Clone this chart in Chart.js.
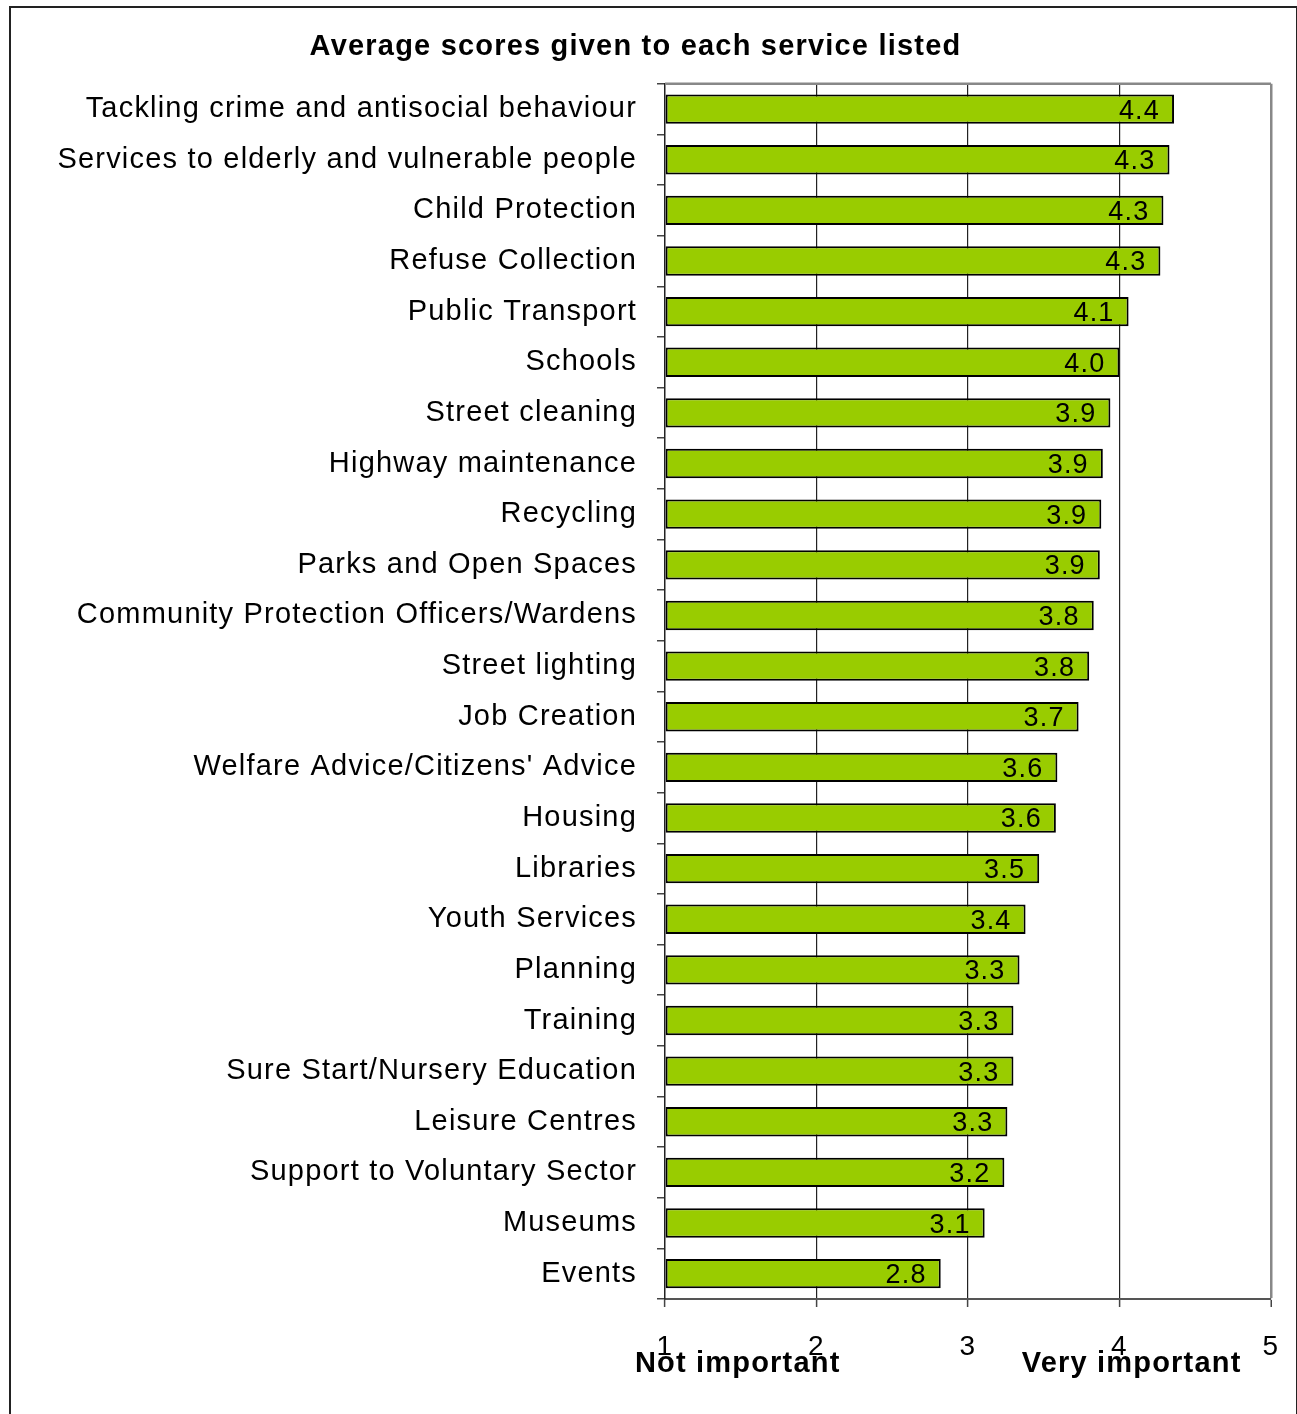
<!DOCTYPE html>
<html>
<head>
<meta charset="utf-8">
<title>Average scores given to each service listed</title>
<script src="https://cdn.jsdelivr.net/npm/chart.js@4.4.1/dist/chart.umd.min.js"></script>
<style>
    html, body { margin: 0; padding: 0; background: #fff; }
    #wrap { position: relative; width: 1297px; height: 1414px; overflow: hidden; }
    #frame {
        position: absolute; left: 9px; top: 6px; width: 1285px; height: 1420px;
        border: 2px solid #222; pointer-events: none;
    }
</style>
</head>
<body>
<div id="wrap">
    <canvas id="servicesChart" width="1297" height="1414"></canvas>
    <div id="frame"></div>
</div>
<script>
// Services, top to bottom
const services = [
    'Tackling crime and antisocial behaviour',
    'Services to elderly and vulnerable people',
    'Child Protection',
    'Refuse Collection',
    'Public Transport',
    'Schools',
    'Street cleaning',
    'Highway maintenance',
    'Recycling',
    'Parks and Open Spaces',
    'Community Protection Officers/Wardens',
    'Street lighting',
    'Job Creation',
    "Welfare Advice/Citizens' Advice",
    'Housing',
    'Libraries',
    'Youth Services',
    'Planning',
    'Training',
    'Sure Start/Nursery Education',
    'Leisure Centres',
    'Support to Voluntary Sector',
    'Museums',
    'Events'
];

// Average scores
const averageScores = [
    4.36, 4.33, 4.29, 4.27, 4.06, 4.00, 3.94, 3.89, 3.88, 3.87, 3.83, 3.80,
    3.73, 3.59, 3.58, 3.47, 3.38, 3.34, 3.30, 3.30, 3.26, 3.24, 3.11, 2.82
];

// Scale 1..5 and its two end labels
const scoreTicks = [1, 2, 3, 4, 5];
const scaleLabels = ['Not important', 'Very important'];
const scaleLabelValues = [1.48, 4.08];

const FONT = '"Liberation Sans", Arial, sans-serif';
const LETTER_SPACING = '1.2px';

// The original text is set a bit wider than plain Arial
const wideText = {
    id: 'wideText',
    beforeLayout(chart) { chart.ctx.letterSpacing = LETTER_SPACING; },
    beforeDraw(chart) { chart.ctx.letterSpacing = LETTER_SPACING; }
};

// Value written inside the end of each bar
const barValueLabels = {
    id: 'barValueLabels',
    afterDatasetsDraw(chart) {
        const ctx = chart.ctx;
        const meta = chart.getDatasetMeta(0);
        ctx.save();
        ctx.font = '27px ' + FONT;
        ctx.fillStyle = '#000';
        ctx.textAlign = 'right';
        ctx.textBaseline = 'middle';
        meta.data.forEach((bar, i) => {
            ctx.fillText(averageScores[i].toFixed(1), bar.x - 14, bar.y + 2);
        });
        ctx.restore();
    }
};

// Grey top edge of the plot area + the two scale captions under the axis
const plotDecor = {
    id: 'plotDecor',
    beforeDatasetsDraw(chart) {
        const { ctx, chartArea } = chart;
        ctx.save();
        ctx.strokeStyle = '#888';
        ctx.lineWidth = 2.5;
        ctx.beginPath();
        ctx.moveTo(chartArea.left, chartArea.top);
        ctx.lineTo(chartArea.right, chartArea.top);
        ctx.stroke();
        ctx.restore();
    },
    afterDraw(chart) {
        const { ctx, chartArea } = chart;
        const xScale = chart.scales.x;
        ctx.save();
        ctx.font = 'bold 29px ' + FONT;
        ctx.fillStyle = '#000';
        ctx.textAlign = 'center';
        ctx.textBaseline = 'middle';
        scaleLabels.forEach((txt, i) => {
            ctx.fillText(txt, xScale.getPixelForValue(scaleLabelValues[i]), chartArea.bottom + 65);
        });
        ctx.restore();
    }
};

function createServicesChart() {
    const canvas = document.getElementById('servicesChart');
    if (!canvas) {
        console.error('canvas servicesChart not found');
        return null;
    }
    const ctx = canvas.getContext('2d');

    return new Chart(ctx, {
        type: 'bar',
        data: {
            labels: services,
            datasets: [{
                data: averageScores,
                base: 1,
                backgroundColor: '#99CC00',
                borderColor: '#000',
                borderWidth: 2,
                borderSkipped: false,
                barPercentage: 0.58,
                categoryPercentage: 1.0
            }]
        },
        options: {
            indexAxis: 'y',
            responsive: false,
            animation: false,
            layout: { padding: { left: 0, right: 26, top: 0, bottom: 0 } },
            scales: {
                x: {
                    type: 'linear',
                    min: scoreTicks[0],
                    max: scoreTicks[scoreTicks.length - 1],
                    afterBuildTicks(scale) {
                        scale.ticks = scoreTicks.map(v => ({ value: v }));
                    },
                    afterFit(scale) {
                        scale.height = 115;
                        // plot edges are fixed by the layout padding, not by the tick labels
                        scale.paddingLeft = 0;
                        scale.paddingRight = 0;
                    },
                    ticks: {
                        color: '#000',
                        font: { family: FONT, size: 28 },
                        padding: 23
                    },
                    grid: {
                        color: c => (c.tick && c.tick.value === 5) ? '#888' : (c.tick && c.tick.value === 1 ? 'rgba(0,0,0,0)' : '#222'),
                        lineWidth: c => (c.tick && c.tick.value === 5) ? 2.5 : 1.2,
                        tickColor: '#444',
                        tickLength: 8,
                        tickWidth: 1.5
                    },
                    border: { color: '#555', width: 2 }
                },
                y: {
                    type: 'category',
                    afterFit(scale) { scale.width = 665; },
                    ticks: {
                        color: '#000',
                        font: { family: FONT, size: 29 },
                        padding: 20,
                        autoSkip: false
                    },
                    grid: {
                        offset: true,
                        drawOnChartArea: false,
                        color: '#444',
                        tickLength: 8,
                        lineWidth: 1.5
                    },
                    border: { color: '#222', width: 1.5 }
                }
            },
            plugins: {
                legend: { display: false },
                tooltip: { enabled: false },
                title: {
                    display: true,
                    text: 'Average scores given to each service listed',
                    color: '#000',
                    font: { family: FONT, size: 29, weight: 'bold' },
                    padding: { top: 30, bottom: 19 }
                }
            }
        },
        plugins: [wideText, barValueLabels, plotDecor]
    });
}

document.addEventListener('DOMContentLoaded', function () {
    window.servicesChart = createServicesChart();
});
</script>
</body>
</html>
